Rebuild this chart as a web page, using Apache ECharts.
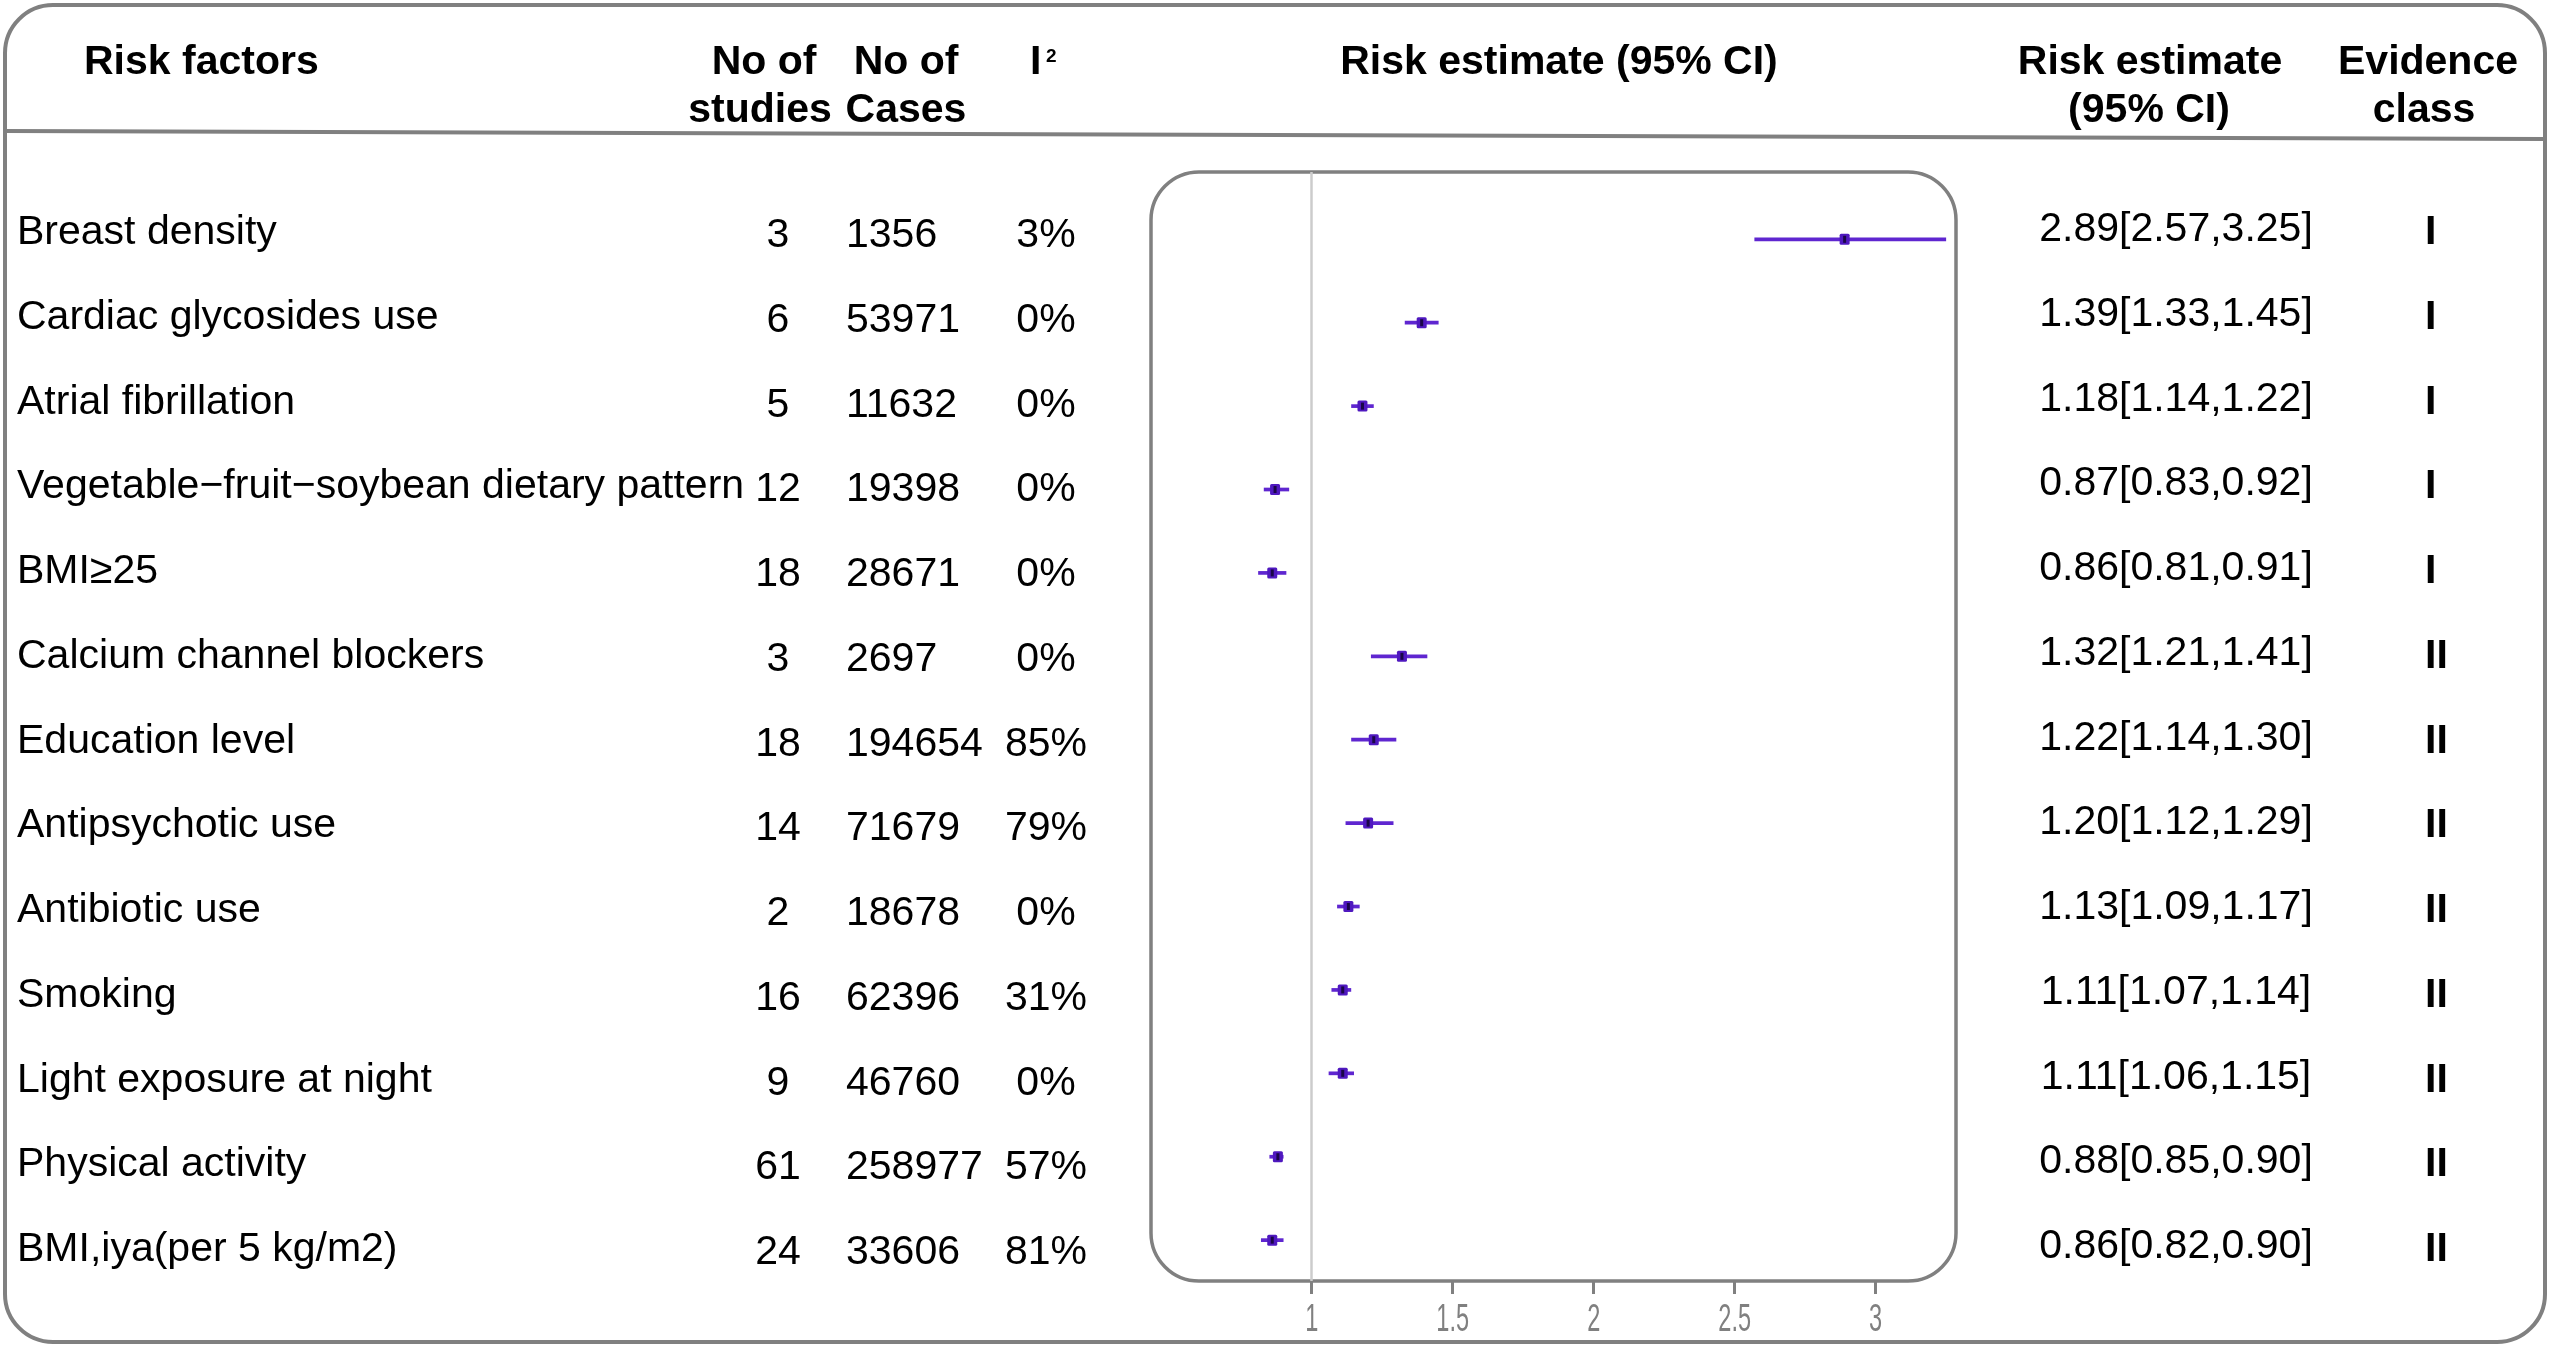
<!DOCTYPE html>
<html>
<head>
<meta charset="utf-8">
<title>Forest plot</title>
<script src="https://cdn.jsdelivr.net/npm/echarts@6/dist/echarts.min.js"></script>
<style>
html, body { margin: 0; padding: 0; background: #fff; }
#forest { width: 2551px; height: 1347px; }
</style>
</head>
<body>
<div id="forest"></div>
<script>
// table data
var factors = ['Breast density', 'Cardiac glycosides use', 'Atrial fibrillation',
    'Vegetable\u2212fruit\u2212soybean dietary pattern', 'BMI\u226525', 'Calcium channel blockers',
    'Education level', 'Antipsychotic use', 'Antibiotic use', 'Smoking',
    'Light exposure at night', 'Physical activity', 'BMI,iya(per 5 kg/m2)'];
var studies = [3, 6, 5, 12, 18, 3, 18, 14, 2, 16, 9, 61, 24];
var cases = [1356, 53971, 11632, 19398, 28671, 2697, 194654, 71679, 18678, 62396, 46760, 258977, 33606];
var i2 = ['3%', '0%', '0%', '0%', '0%', '0%', '85%', '79%', '0%', '31%', '0%', '57%', '81%'];
var estimate = [2.89, 1.39, 1.18, 0.87, 0.86, 1.32, 1.22, 1.20, 1.13, 1.11, 1.11, 0.88, 0.86];
var lower = [2.57, 1.33, 1.14, 0.83, 0.81, 1.21, 1.14, 1.12, 1.09, 1.07, 1.06, 0.85, 0.82];
var upper = [3.25, 1.45, 1.22, 0.92, 0.91, 1.41, 1.30, 1.29, 1.17, 1.14, 1.15, 0.90, 0.90];
var evidence = ['I', 'I', 'I', 'I', 'I', 'II', 'II', 'II', 'II', 'II', 'II', 'II', 'II'];
var xTicks = [1, 1.5, 2, 2.5, 3];

var FONT = '"Liberation Sans", Arial, Helvetica, sans-serif';
var GRAY = '#808080';
var PURPLE = '#5f26d0';

// forest panel box
var panel = { left: 1151, top: 172, width: 805, height: 1109 };
var yMin = -0.807, yMax = 12.49;

var ciText = estimate.map(function (e, i) {
    return e.toFixed(2) + '[' + lower[i].toFixed(2) + ',' + upper[i].toFixed(2) + ']';
});

var chart = echarts.init(document.getElementById('forest'));

function textColumn(values, x, align, dy, bold) {
    return {
        type: 'custom',
        xAxisIndex: 1,
        yAxisIndex: 1,
        silent: true,
        clip: false,
        data: values.map(function (v, i) { return [0, i]; }),
        renderItem: function (params, api) {
            var i = params.dataIndex;
            var y = api.coord([0, api.value(1)])[1];
            return {
                type: 'text',
                x: x,
                y: y + dy,
                style: {
                    text: String(values[i]),
                    fill: '#000',
                    font: (bold ? 'bold ' : '') + '41px ' + FONT,
                    align: align,
                    verticalAlign: 'middle'
                }
            };
        }
    };
}

function header(text, x, y, align) {
    return {
        type: 'text', x: x, y: y, silent: true,
        style: { text: text, fill: '#000', font: 'bold 41px ' + FONT, align: align || 'center', verticalAlign: 'middle' }
    };
}

var option = {
    backgroundColor: '#fff',
    animation: false,
    grid: [
        { left: panel.left, top: panel.top, width: panel.width, height: panel.height, show: false },
        { left: 0, top: 148, width: 2551, height: 1186.5, show: false }
    ],
    xAxis: [
        {
            type: 'value', gridIndex: 0, min: 0.43, max: 3.285, position: 'bottom',
            axisLine: { show: false, onZero: false },
            splitLine: { show: false },
            axisTick: { show: true, length: 13, customValues: xTicks, lineStyle: { color: GRAY, width: 3 } },
            axisLabel: { show: false }
        },
        { type: 'value', gridIndex: 1, min: 0, max: 1, show: false }
    ],
    yAxis: [
        { type: 'value', gridIndex: 0, inverse: true, min: yMin, max: yMax, show: false },
        { type: 'value', gridIndex: 1, inverse: true, min: -1, max: 13, show: false }
    ],
    graphic: [
        // outer frame
        { type: 'rect', z: 0, silent: true, shape: { x: 5, y: 5, width: 2540, height: 1337, r: 48 },
          style: { fill: 'none', stroke: GRAY, lineWidth: 4 } },
        { type: 'line', z: 0, silent: true, shape: { x1: 5, y1: 131, x2: 2545, y2: 139 },
          style: { stroke: GRAY, lineWidth: 4 } },
        // forest panel
        { type: 'rect', z: 0, silent: true,
          shape: { x: panel.left, y: panel.top, width: panel.width, height: panel.height, r: 48 },
          style: { fill: 'none', stroke: GRAY, lineWidth: 3.5 } },
        header('Risk factors', 84, 63, 'left'),
        header('No of', 764, 63),
        header('studies', 760, 111),
        header('No of', 906, 63),
        header('Cases', 906, 111),
        header('I', 1030, 63, 'left'),
        { type: 'text', x: 1046, y: 57, silent: true,
          style: { text: '2', fill: '#000', font: 'bold 19px ' + FONT, align: 'left', verticalAlign: 'middle' } },
        header('Risk estimate (95% CI)', 1559, 63),
        header('Risk estimate', 2150, 63),
        header('(95% CI)', 2149, 111),
        header('Evidence', 2428, 63),
        header('class', 2424, 111)
    ],
    series: [
        {
            type: 'line', xAxisIndex: 0, yAxisIndex: 0, data: [], z: 1,
            markLine: {
                silent: true, symbol: 'none', label: { show: false },
                lineStyle: { color: '#cccccc', width: 2.5, type: 'solid' },
                data: [{ xAxis: 1 }]
            }
        },
        {
            type: 'custom', xAxisIndex: 0, yAxisIndex: 0, z: 3, silent: true,
            data: estimate.map(function (e, i) { return [lower[i], upper[i], e, i]; }),
            renderItem: function (params, api) {
                var row = api.value(3);
                var a = api.coord([api.value(0), row]);
                var b = api.coord([api.value(1), row]);
                var m = api.coord([api.value(2), row]);
                return {
                    type: 'group',
                    children: [
                        { type: 'line', shape: { x1: a[0], y1: a[1], x2: b[0], y2: b[1] },
                          style: { stroke: PURPLE, lineWidth: 3.7 } },
                        { type: 'rect', shape: { x: m[0] - 5, y: m[1] - 5.5, width: 10, height: 11, r: 1.5 },
                          style: { fill: '#4f18bf' } },
                        { type: 'rect', shape: { x: m[0] - 1.5, y: m[1] - 3.5, width: 3, height: 7 },
                          style: { fill: '#1a0648' } }
                    ]
                };
            }
        },
        // x tick labels, drawn narrow like the source
        {
            type: 'custom', xAxisIndex: 0, yAxisIndex: 0, z: 3, silent: true, clip: false,
            data: xTicks.map(function (v) { return [v]; }),
            renderItem: function (params, api) {
                var p = api.coord([api.value(0), yMax]);
                return {
                    type: 'text', x: p[0], y: p[1] + 40, scaleX: 0.62, scaleY: 1,
                    style: { text: String(api.value(0)), fill: GRAY, font: '38px ' + FONT,
                             align: 'center', verticalAlign: 'middle' }
                };
            }
        },
        textColumn(factors, 17, 'left', 0, false),
        textColumn(studies, 778, 'center', 3, false),
        textColumn(cases, 846, 'left', 3, false),
        textColumn(i2, 1046, 'center', 3, false),
        textColumn(ciText, 2176, 'center', -3, false),
        textColumn(evidence, 2425, 'left', 0, true)
    ]
};

chart.setOption(option);
</script>
</body>
</html>
